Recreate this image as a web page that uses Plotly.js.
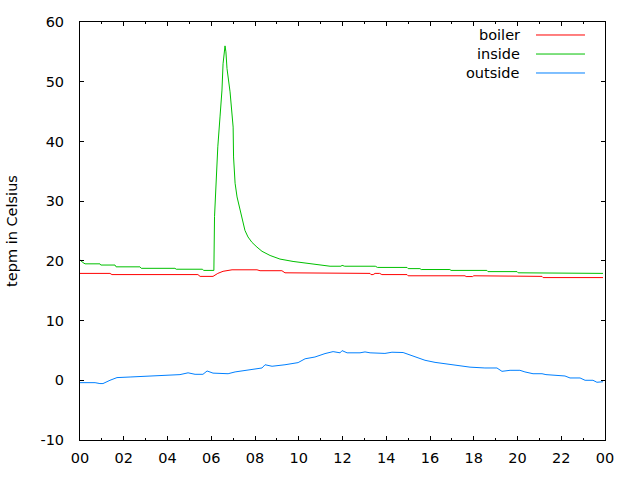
<!DOCTYPE html>
<html>
<head>
<meta charset="utf-8">
<script src="https://cdn.plot.ly/plotly-3.0.1.min.js"></script>
<style>html,body{margin:0;padding:0;background:#fff;}#chart{width:640px;height:480px;}</style>
</head>
<body>
<div id="chart"></div>
<script>
// hours of day (0-24) and temperatures in Celsius
var boilerHours = [0, 1.37, 1.46, 5.39, 5.49, 6.08, 6.3, 6.54, 6.95, 8.09, 8.23, 9.23, 9.37, 10.74, 10.88, 13.26, 13.3, 13.4, 13.49, 13.7, 13.8, 14.95, 15.0, 17.6, 17.65, 17.95, 18.0, 18.1, 18.2, 21.12, 21.17, 23.91];
var boilerTemp  = [17.9, 17.9, 17.7, 17.7, 17.4, 17.4, 17.9, 18.25, 18.5, 18.5, 18.35, 18.35, 18.0, 18.0, 17.9, 17.9, 17.7, 17.7, 17.9, 17.9, 17.7, 17.7, 17.5, 17.5, 17.37, 17.37, 17.5, 17.5, 17.4, 17.4, 17.2, 17.2];

var insideHours = [0, 0.1, 0.23, 0.91, 0.95, 1.6, 1.65, 2.74, 2.8, 4.34, 4.4, 5.6, 5.65, 6.12, 6.15, 6.22, 6.3, 6.4, 6.49, 6.54, 6.63, 6.67, 6.72, 6.86, 6.95, 7.0, 7.02, 7.09, 7.18, 7.31, 7.41, 7.54, 7.68, 7.86, 8.09, 8.32, 8.69, 9.14, 9.74, 10.51, 11.0, 11.43, 11.93, 11.98, 12.1, 13.5, 13.6, 14.95, 15.0, 15.54, 15.6, 16.91, 16.96, 18.6, 18.65, 19.98, 20.03, 22.4, 22.45, 23.91];
var insideTemp  = [20.2, 19.8, 19.5, 19.5, 19.3, 19.3, 19.0, 19.0, 18.75, 18.75, 18.6, 18.6, 18.4, 18.4, 27.4, 33.0, 39.1, 44.1, 48.6, 53.0, 56.0, 55.0, 52.2, 48.3, 45.2, 42.4, 37.4, 33.0, 30.7, 28.5, 26.8, 25.1, 24.0, 23.1, 22.3, 21.6, 20.9, 20.3, 19.9, 19.5, 19.35, 19.1, 19.1, 19.25, 19.1, 19.1, 18.9, 18.9, 18.7, 18.7, 18.55, 18.55, 18.4, 18.4, 18.2, 18.2, 18.0, 18.0, 17.9, 17.9];

var outsideHours = [0, 0.69, 0.91, 1.05, 1.37, 1.69, 2.29, 2.97, 3.66, 3.89, 4.57, 4.94, 5.26, 5.62, 5.81, 6.08, 6.63, 6.77, 7.09, 7.68, 8.14, 8.32, 8.46, 8.78, 9.37, 9.97, 10.29, 10.74, 11.2, 11.57, 11.89, 11.98, 12.21, 12.8, 13.03, 13.26, 13.94, 14.26, 14.77, 15.09, 15.41, 15.77, 16.23, 16.69, 17.14, 17.83, 18.51, 19.06, 19.29, 19.66, 20.11, 20.34, 20.71, 21.12, 21.3, 21.71, 22.17, 22.4, 22.86, 23.09, 23.45, 23.63, 23.91];
var outsideTemp  = [-0.4, -0.4, -0.55, -0.55, 0.0, 0.45, 0.55, 0.67, 0.72, 0.84, 0.95, 1.25, 1.0, 1.0, 1.56, 1.2, 1.2, 1.1, 1.4, 1.67, 1.9, 2.06, 2.6, 2.35, 2.6, 2.96, 3.6, 3.9, 4.47, 4.8, 4.6, 4.97, 4.6, 4.6, 4.75, 4.6, 4.5, 4.7, 4.65, 4.2, 3.8, 3.35, 3.0, 2.8, 2.5, 2.2, 2.06, 2.06, 1.5, 1.67, 1.67, 1.4, 1.1, 1.1, 0.95, 0.84, 0.72, 0.39, 0.39, 0.0, 0.0, -0.33, -0.25];

var seriesNames = ['boiler', 'inside', 'outside'];
var seriesColors = ['#ff0000', '#00c000', '#0080ff'];
var xTickVals = [0, 2, 4, 6, 8, 10, 12, 14, 16, 18, 20, 22, 24];
var xTickText = ['00', '02', '04', '06', '08', '10', '12', '14', '16', '18', '20', '22', '00'];
var yTickVals = [-10, 0, 10, 20, 30, 40, 50, 60];
var yTickText = ['-10', '0', '10', '20', '30', '40', '50', '60'];
var yTitle = 'tepm in Celsius';

var FONT = {family: 'DejaVu Sans', size: 14.5, color: '#000'};

var xs = [boilerHours, insideHours, outsideHours];
var ys = [boilerTemp, insideTemp, outsideTemp];
var traces = [];
for (var i = 0; i < 3; i++) {
  traces.push({x: xs[i], y: ys[i], type: 'scatter', mode: 'lines', name: seriesNames[i],
    line: {color: seriesColors[i], width: 1}, showlegend: false});
}

// gnuplot-style key: right-aligned label, line sample after it
var shapes = [], annotations = [];
var keyY = [0.9689, 0.9234, 0.878];
for (var k = 0; k < 3; k++) {
  annotations.push({xref: 'paper', yref: 'paper', x: 0.842, y: keyY[k], xanchor: 'right', yanchor: 'middle',
    text: seriesNames[k], showarrow: false, font: FONT});
  shapes.push({type: 'line', xref: 'paper', yref: 'paper', x0: 0.8686, x1: 0.9619, y0: keyY[k], y1: keyY[k],
    line: {color: seriesColors[k], width: 1}});
}

var axisCommon = {showgrid: false, zeroline: false, showline: true, linecolor: '#000', linewidth: 1,
  mirror: 'ticks', ticks: 'inside', ticklen: 4, tickcolor: '#000', tickwidth: 1,
  tickfont: FONT};

var layout = {
  width: 640, height: 480,
  margin: {l: 80, r: 35, t: 22, b: 40},
  paper_bgcolor: '#fff', plot_bgcolor: '#fff',
  font: FONT,
  xaxis: Object.assign({}, axisCommon, {range: [0, 24], tickmode: 'array', tickvals: xTickVals, ticktext: xTickText,
    ticklabelstandoff: 5,
    minor: {dtick: 1, ticks: 'inside', ticklen: 2, tickcolor: '#000', showgrid: false}}),
  yaxis: Object.assign({}, axisCommon, {range: [-10, 60], tickmode: 'array', tickvals: yTickVals, ticktext: yTickText,
    ticklabelstandoff: 12,
    title: {text: yTitle, font: FONT, standoff: 19}}),
  shapes: shapes,
  annotations: annotations
};

Plotly.newPlot('chart', traces, layout, {staticPlot: true, displayModeBar: false});
</script>
</body>
</html>
